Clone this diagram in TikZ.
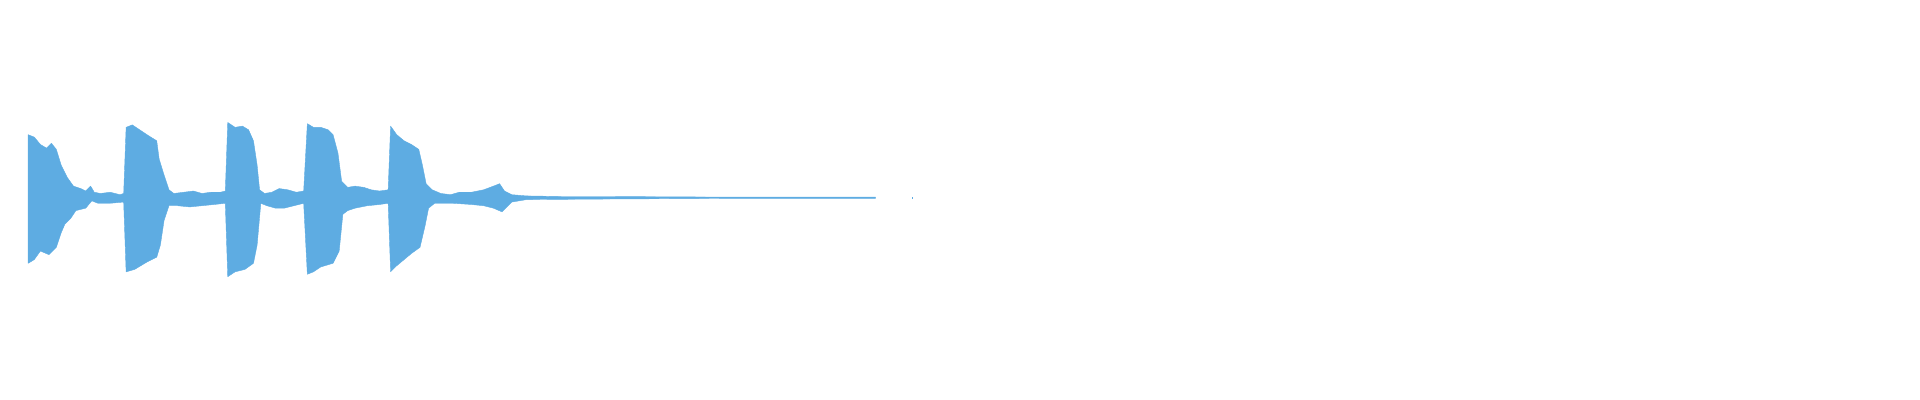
\documentclass[tikz,border=0pt]{standalone}
\usetikzlibrary{positioning}
\definecolor{wave}{RGB}{94,172,226}
\tikzset{
  envelope/.style={fill=wave, draw=wave, line width=0.4pt, line join=round}
}
\begin{document}
\begin{tikzpicture}[x=1.2245pt, y=-1.2245pt]
\useasboundingbox (0,0) rectangle (1568,326.6);
% ---- waveform envelope ----
\filldraw[envelope] (23,161)--(23,110)--(28,112)--(33,118)--(38,121)--(42,117)--(46,122)--(50,135)--(55,145)--(60,152)--(66,154)--(70,156)--(74,152)--(77,157)--(82,158)--(90,157)--(98,159)--(101,158)
 --(103,104)--(108,102)--(114,106)--(120,110)--(128,115)--(130,130)--(134,143)--(138,155)--(142,158)--(150,157)--(158,156)--(165,158)--(172,157)--(180,157)--(184,156)
 --(186,100)--(192,104)--(198,103)--(203,106)--(207,115)--(210,135)--(212,155)--(216,158)--(222,157)--(228,154)--(235,155)--(242,157)--(248,156)
 --(251,101)--(256,104)--(262,104)--(268,106)--(272,110)--(276,125)--(279,148)--(284,153)--(290,152)--(297,153)--(303,155)--(310,156)--(317,155)
 --(319,103)--(324,110)--(330,115)--(336,118)--(342,122)--(345,135)--(348,150)--(353,155)--(360,158)--(368,159)--(375,157)--(385,157)--(395,155)--(403,152)--(408,150)--(412,156)--(418,159)--(430,160)--(460,160.5)--(500,160.5)--(600,161)--(715,161)
 --(715,162)--(600,162)--(500,162.5)--(430,163)--(418,165)--(410,173)--(403,170)--(395,168)--(385,167)--(370,166)--(355,166)--(350,170)--(347,185)--(343,202)--(336,207)--(330,212)--(324,217)--(319,222)
 --(317,166)--(310,167)--(300,168)--(290,170)--(284,172)--(280,175)--(277,205)--(272,215)--(262,218)--(256,222)--(251,224)
 --(248,166)--(240,168)--(232,170)--(225,170)--(218,168)--(213,166)--(210,200)--(207,215)--(200,220)--(192,222)--(186,226)
 --(184,166)--(175,167)--(165,168)--(155,169)--(145,168)--(138,168)--(134,180)--(131,200)--(128,210)--(120,214)--(110,220)--(103,222)
 --(101,165)--(90,166)--(80,166)--(75,164)--(70,170)--(62,172)--(58,178)--(53,183)--(50,190)--(46,202)--(40,208)--(33,205)--(28,212)--(23,215)--cycle;
% ---- stray sample ----
\fill[wave] (744.5,161) rectangle (745.5,162.5);
\end{tikzpicture}
\end{document}
